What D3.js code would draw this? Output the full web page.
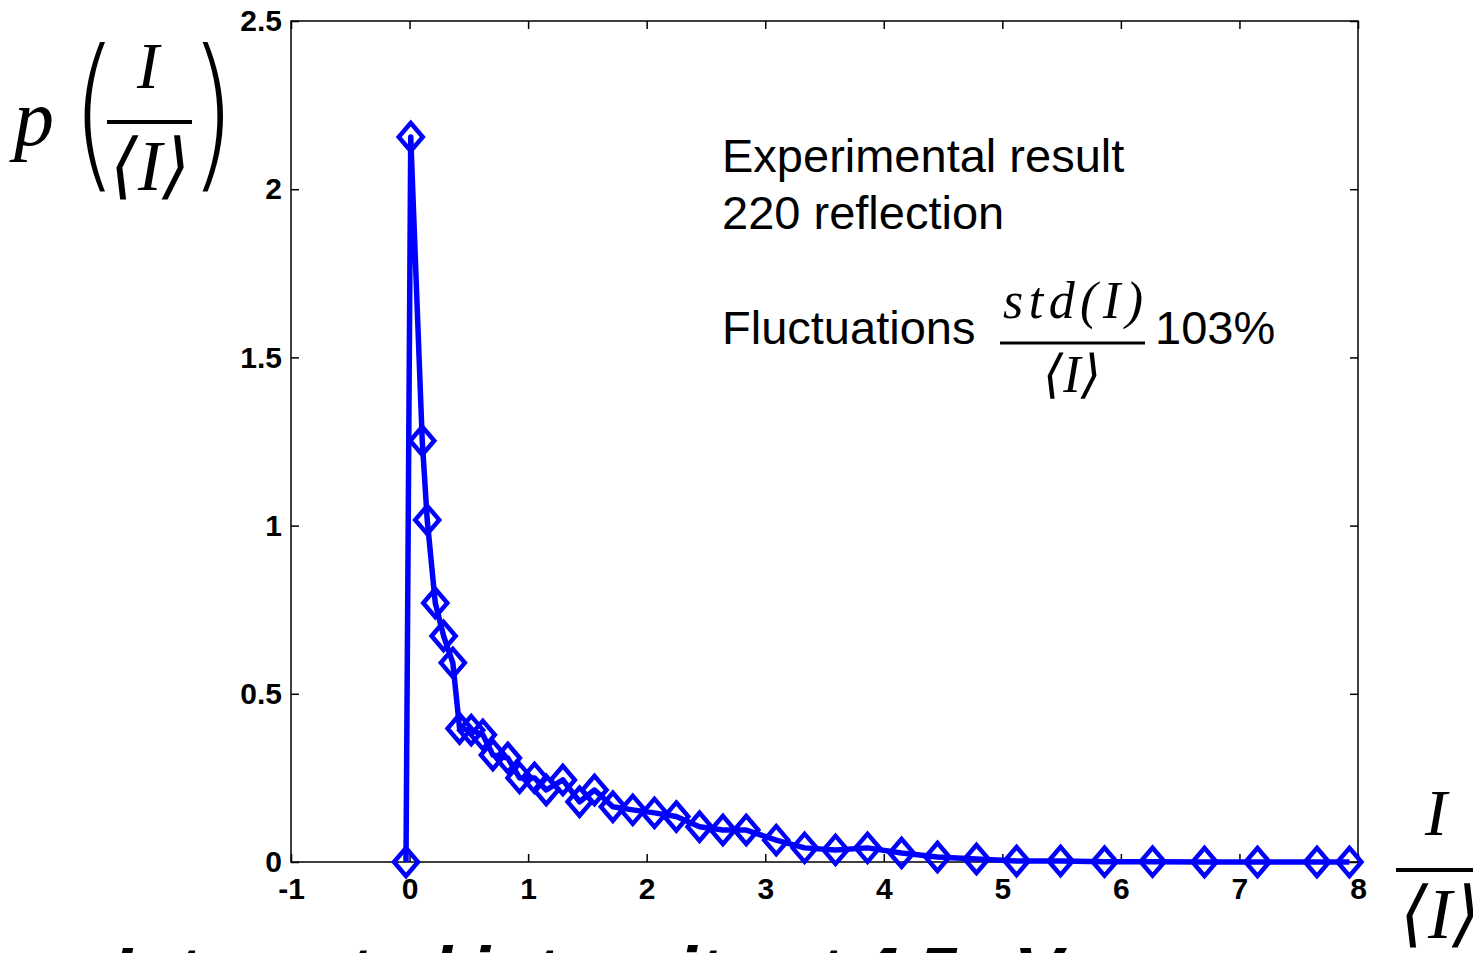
<!DOCTYPE html>
<html><head><meta charset="utf-8">
<script src="https://cdn.jsdelivr.net/npm/d3@7"></script>
<style>body{margin:0;background:#fff;overflow:hidden}</style></head>
<body>
<svg id="c" width="1473" height="953"></svg>
<script>
// Data
const xValues = [-0.03, 0.01, 0.107, 0.149, 0.217, 0.287, 0.365, 0.422, 0.520, 0.618,
  0.703, 0.829, 0.928, 1.054, 1.153, 1.293, 1.434, 1.560, 1.715, 1.883,
  2.066, 2.250, 2.446, 2.643, 2.840, 3.093, 3.332, 3.593, 3.863, 4.150,
  4.453, 4.782, 5.120, 5.491, 5.862, 6.267, 6.705, 7.152, 7.654, 7.928];
const yValues = [0, 2.155, 1.252, 1.017, 0.770, 0.672, 0.592, 0.397, 0.392, 0.378,
  0.318, 0.309, 0.250, 0.250, 0.214, 0.244, 0.179, 0.214, 0.164, 0.155,
  0.146, 0.135, 0.105, 0.095, 0.095, 0.065, 0.042, 0.036, 0.042, 0.027,
  0.015, 0.009, 0.003, 0.003, 0.001, 0.001, 0.0, 0.0, 0.0, 0.0];
const xTicks = [-1, 0, 1, 2, 3, 4, 5, 6, 7, 8];
const xTickLabels = ["-1", "0", "1", "2", "3", "4", "5", "6", "7", "8"];
const yTicks = [0, 0.5, 1, 1.5, 2, 2.5];
const yTickLabels = ["0", "0.5", "1", "1.5", "2", "2.5"];
const annotationLines = ["Experimental result", "220 reflection"];
const fluctLabel = "Fluctuations";
const fluctValue = "103%";

const svg = d3.select("#c");
const L = 291, R = 1358, T = 21, B = 862;
const x = d3.scaleLinear().domain([-1, 8]).range([L, R]);
const y = d3.scaleLinear().domain([0, 2.5]).range([B, T]);

const tickFont = "'Liberation Sans', Arial, sans-serif";
function styleAxis(g, showText) {
  g.select(".domain").remove();
  g.selectAll(".tick line").attr("stroke", "#000").attr("stroke-width", 1.5);
  g.selectAll(".tick text").attr("fill", "#000").attr("font-family", tickFont)
    .attr("font-weight", "bold").attr("font-size", 30);
  if (!showText) g.selectAll(".tick text").remove();
}
svg.append("g").attr("transform", `translate(0,${B})`)
  .call(d3.axisBottom(x).tickValues(xTicks).tickSize(-8).tickPadding(16).tickFormat((d, i) => xTickLabels[i]))
  .call(g => styleAxis(g, true));
svg.append("g").attr("transform", `translate(0,${T})`)
  .call(d3.axisTop(x).tickValues(xTicks).tickSize(-8))
  .call(g => styleAxis(g, false));
svg.append("g").attr("transform", `translate(${L},0)`)
  .call(d3.axisLeft(y).tickValues(yTicks).tickSize(-8).tickPadding(9).tickFormat((d, i) => yTickLabels[i]))
  .call(g => styleAxis(g, true));
svg.append("g").attr("transform", `translate(${R},0)`)
  .call(d3.axisRight(y).tickValues(yTicks).tickSize(-8))
  .call(g => styleAxis(g, false));
svg.append("rect").attr("x", L).attr("y", T).attr("width", R - L).attr("height", B - T)
  .attr("fill", "none").attr("stroke", "#000").attr("stroke-width", 1.5);

// data line + diamond markers
const pts = xValues.map((v, i) => [v, yValues[i]]);
const line = d3.line().x(d => x(d[0])).y(d => y(d[1]));
svg.append("path").datum(pts).attr("d", line).attr("fill", "none")
  .attr("stroke", "#0000ff").attr("stroke-width", 5.5).attr("stroke-linejoin", "round");
svg.append("g").selectAll("path").data(pts).join("path")
  .attr("transform", d => `translate(${x(d[0])},${y(d[1])})`)
  .attr("d", "M0,-14L12,0L0,14L-12,0Z")
  .attr("fill", "none").attr("stroke", "#0000ff").attr("stroke-width", 4.5);

// annotations
const sans = "'Liberation Sans', Arial, sans-serif";
const serif = "'Liberation Serif', 'DejaVu Serif', serif";
svg.append("g").selectAll("text").data(annotationLines).join("text")
  .attr("x", 722).attr("y", (d, i) => 172 + i * 57)
  .attr("font-family", sans).attr("font-size", 47).attr("fill", "#000").text(d => d);
svg.append("text").attr("x", 722).attr("y", 344).attr("font-family", sans)
  .attr("font-size", 47).attr("fill", "#000").text(fluctLabel);
svg.append("text").attr("x", 1003).attr("y", 318)
  .attr("font-family", serif).attr("font-style", "italic").attr("font-size", 52)
  .attr("textLength", 140).attr("lengthAdjust", "spacing")
  .attr("fill", "#000").text("std(I)");
svg.append("line").attr("x1", 1000).attr("x2", 1145).attr("y1", 343).attr("y2", 343)
  .attr("stroke", "#000").attr("stroke-width", 3);
svg.append("text").attr("x", 1072).attr("y", 392).attr("text-anchor", "middle")
  .attr("font-family", serif).attr("font-style", "italic").attr("font-size", 52)
  .attr("fill", "#000").text("⟨I⟩");
svg.append("text").attr("x", 1155).attr("y", 344).attr("font-family", sans)
  .attr("font-size", 47).attr("fill", "#000").text(fluctValue);

// y label: p(I/<I>)
svg.append("text").attr("x", 14).attr("y", 145).attr("font-family", serif)
  .attr("font-style", "italic").attr("font-size", 80).attr("fill", "#000").text("p");
svg.append("text").attr("transform", "translate(72,170) scale(1,1.45)")
  .attr("font-family", "'DejaVu Sans', sans-serif").attr("font-weight", 200)
  .attr("font-size", 115).attr("fill", "#000").text("(");
svg.append("text").attr("transform", "translate(190,170) scale(1,1.45)")
  .attr("font-family", "'DejaVu Sans', sans-serif").attr("font-weight", 200)
  .attr("font-size", 115).attr("fill", "#000").text(")");
svg.append("text").attr("x", 148).attr("y", 88).attr("text-anchor", "middle")
  .attr("font-family", serif).attr("font-style", "italic").attr("font-size", 66)
  .attr("fill", "#000").text("I");
svg.append("line").attr("x1", 107).attr("x2", 192).attr("y1", 122).attr("y2", 122)
  .attr("stroke", "#000").attr("stroke-width", 4);
svg.append("text").attr("x", 150).attr("y", 190).attr("text-anchor", "middle")
  .attr("font-family", serif).attr("font-style", "italic").attr("font-size", 72)
  .attr("fill", "#000").text("⟨I⟩");

// x label: I/<I>
svg.append("text").attr("x", 1436).attr("y", 835).attr("text-anchor", "middle")
  .attr("font-family", serif).attr("font-style", "italic").attr("font-size", 66)
  .attr("fill", "#000").text("I");
svg.append("line").attr("x1", 1396).attr("x2", 1473).attr("y1", 870).attr("y2", 870)
  .attr("stroke", "#000").attr("stroke-width", 4);
svg.append("text").attr("x", 1440).attr("y", 938).attr("text-anchor", "middle")
  .attr("font-family", serif).attr("font-style", "italic").attr("font-size", 72)
  .attr("fill", "#000").text("⟨I⟩");

// cut-off caption at the bottom
svg.append("text").attr("x", 112).attr("y", 998).attr("font-family", sans)
  .attr("font-weight", "bold").attr("font-style", "italic").attr("font-size", 72)
  .attr("fill", "#000").attr("textLength", 950).attr("lengthAdjust", "spacing")
  .text("Integrated intensity at 4.5 eV");
</script>
</body></html>
